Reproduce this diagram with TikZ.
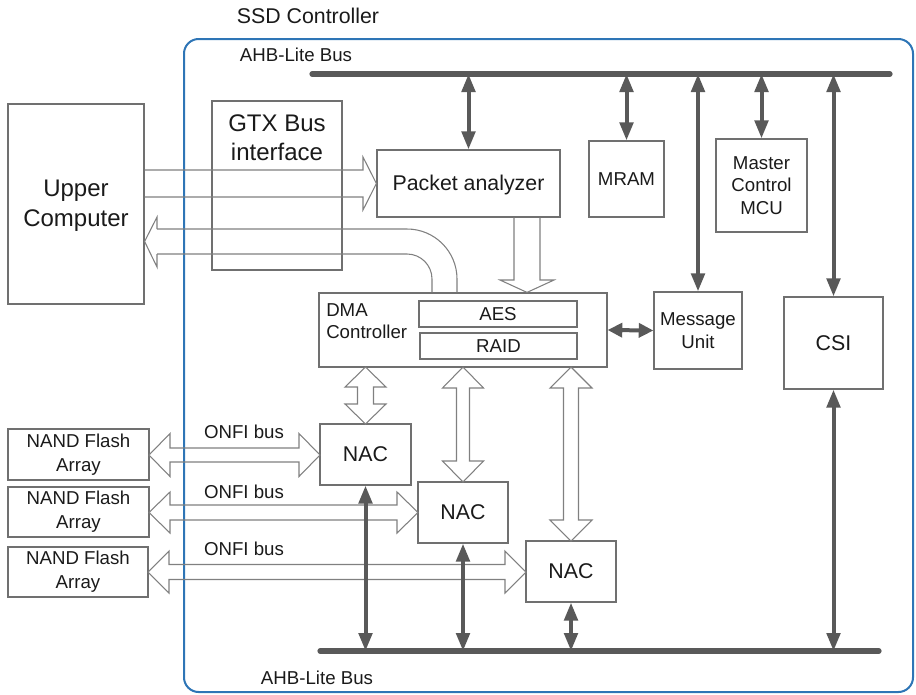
\documentclass[tikz,border=0pt]{standalone}
\usepackage{fontspec}
\setmainfont{Liberation Sans}
\usetikzlibrary{arrows.meta,fit,calc}
\definecolor{bluec}{HTML}{2E75B6}
\definecolor{dg}{HTML}{595959}
\definecolor{bx}{HTML}{707070}
\definecolor{hl}{HTML}{808080}
\definecolor{tx}{HTML}{1A1A1A}
% horizontal hollow double arrow: xl, xr, yc, shaft half, head half, head length
\newcommand{\hhollow}[6]{%
  \draw[hollow] (#1,#3) -- (#1+#6,#3-#5) -- (#1+#6,#3-#4) -- (#2-#6,#3-#4) -- (#2-#6,#3-#5) -- (#2,#3)
    -- (#2-#6,#3+#5) -- (#2-#6,#3+#4) -- (#1+#6,#3+#4) -- (#1+#6,#3+#5) -- cycle;}
% vertical hollow double arrow: x, ytop, ybot, shaft half, head half, head length
\newcommand{\vhollow}[6]{%
  \draw[hollow] (#1,#2) -- (#1+#5,#2+#6) -- (#1+#4,#2+#6) -- (#1+#4,#3-#6) -- (#1+#5,#3-#6) -- (#1,#3)
    -- (#1-#5,#3-#6) -- (#1-#4,#3-#6) -- (#1-#4,#2+#6) -- (#1-#5,#2+#6) -- cycle;}
\begin{document}
\begin{tikzpicture}[x=0.75pt,y=-0.75pt,
  box/.style={draw=bx, line width=0.9pt, inner sep=0pt},
  darr/.style={draw=dg, line width=3pt, {Triangle[length=13.5pt,width=10pt]}-{Triangle[length=13.5pt,width=10pt]}},
  sarr/.style={draw=dg, line width=3pt, {Triangle[length=11pt,width=10.5pt]}-{Triangle[length=11pt,width=10.5pt]}},
  hollow/.style={draw=hl, line width=0.8pt, line join=miter},
  bus/.style={draw=dg, line width=3.9pt, line cap=round},
  fa/.style={font=\fontsize{14}{17}\selectfont},
  fn/.style={font=\fontsize{14}{18}\selectfont},
  fb/.style={font=\fontsize{16}{19}\selectfont},
  fc/.style={font=\fontsize{18}{22.5}\selectfont},
  lbl/.style={text=tx, inner sep=0pt, align=center}]
\useasboundingbox (0,0) rectangle (916,694);

% SSD frame
\node[draw=bluec, line width=1.5pt, rounded corners=11pt, inner sep=0pt, fit={(184,39) (913,692)}] (ssd) {};
\node[lbl, fb] (ssdlbl) at (308,16) {SSD Controller};
\node[lbl, fa] (ahbT) at (296,55) {AHB-Lite Bus};
\node[lbl, fa] (ahbB) at (317,678) {AHB-Lite Bus};

% boxes
\node[box, fit={(8,104) (144,304)}] (uc) {};
\node[box, fit={(212,101) (342,270)}] (gtx) {};
\node[box, fit={(377,150) (560,217)}] (pa) {};
\node[box, fit={(589,141) (664,217)}] (mram) {};
\node[box, fit={(716,139) (807,232)}] (mcu) {};
\node[box, fit={(654,292) (742,369)}] (msg) {};
\node[box, fit={(784,297) (883,389)}] (csi) {};
\node[box, fit={(319,293) (607,367)}] (dma) {};
\node[box, fit={(419,301) (577,327)}] (aes) {};
\node[box, fit={(420,333) (577,359)}] (raid) {};
\node[box, fit={(320,424) (411,485)}] (nac1) {};
\node[box, fit={(418,482) (508,543)}] (nac2) {};
\node[box, fit={(526,541) (616,602)}] (nac3) {};
\node[box, fit={(8,429) (149,480)}] (nand1) {};
\node[box, fit={(8,487) (149,537)}] (nand2) {};
\node[box, fit={(8,547) (148,597)}] (nand3) {};

% texts
\node[lbl, fc] (uclbl) at ($(uc.center)+(0,2)$) {Upper\\Computer};
\node[lbl, font=\fontsize{18}{22}\selectfont] (gtxlbl) at (277,137.5) {GTX Bus\\interface};
\node[lbl, fb] (palbl) at ($(pa.center)+(0,1)$) {Packet analyzer};
\node[lbl, fa] (mramlbl) at (mram.center) {MRAM};
\node[lbl, fa] (mculbl) at (mcu.center) {Master\\Control\\MCU};
\node[lbl, fa] (msglbl) at (msg.center) {Message\\Unit};
\node[lbl, fb] (csilbl) at (csi.center) {CSI};
\node[lbl, fa, align=left, anchor=west] (dmalbl) at (326,321) {DMA\\Controller};
\node[lbl, fa] (aeslbl) at (aes.center) {AES};
\node[lbl, fa] (raidlbl) at (raid.center) {RAID};
\node[lbl, fb] (nac1lbl) at (nac1.center) {NAC};
\node[lbl, fb] (nac2lbl) at (nac2.center) {NAC};
\node[lbl, fb] (nac3lbl) at (nac3.center) {NAC};
\node[lbl, fn] (nand1lbl) at (nand1.center) {NAND Flash\\Array};
\node[lbl, fn] (nand2lbl) at (nand2.center) {NAND Flash\\Array};
\node[lbl, fn] (nand3lbl) at (nand3.center) {NAND Flash\\Array};
\node[lbl, fa] (onfi1) at (244,432) {ONFI bus};
\node[lbl, fa] (onfi2) at (244,492) {ONFI bus};
\node[lbl, fa] (onfi3) at (244,549) {ONFI bus};

% hollow arrows
\draw[hollow] (uc.east |- 0,170) -- (363,170) -- (363,157) -- (pa.west) -- (363,210) -- (363,197) -- (uc.east |- 0,197);
\draw[hollow, rounded corners=37.5pt] (dma.north -| 457,0) |- (157,229);
\draw[hollow, rounded corners=18.75pt] (dma.north -| 432,0) |- (157,254);
\draw[hollow] (157,229) -- (157,217) -- (uc.east |- 0,241.5) -- (157,267) -- (157,254);
\draw[hollow] (pa.south -| 514,0) -- (514,280) -- (500,280) -- (dma.north -| 527,0) -- (554,280) -- (540,280) -- (pa.south -| 540,0);
\vhollow{365.5}{367}{424}{8}{20.5}{20}
\vhollow{463}{367}{482}{6.5}{20.5}{21}
\vhollow{571}{367}{541}{7.5}{21}{21}
\hhollow{149}{320}{455}{7}{21.5}{21}
\hhollow{149}{418}{512.5}{7.5}{20.5}{21}
\hhollow{148}{526}{572}{7.5}{21}{21}

% bus coordinates
\coordinate (bt1) at (312,74);
\coordinate (bt2) at (890,74);
\coordinate (bb1) at (320,651);
\coordinate (bb2) at (879,651);

% dark arrows
\draw[darr] (pa.north) -- (pa.north |- bt1);
\draw[darr] (mram.north) -- (mram.north |- bt1);
\draw[darr] (msg.north) -- (msg.north |- bt1);
\draw[darr] (mcu.north) -- (mcu.north |- bt1);
\draw[darr] (csi.north) -- (csi.north |- bt1);
\draw[darr] (csi.south) -- (csi.south |- bb1);
\draw[darr] (nac1.south) -- (nac1.south |- bb1);
\draw[darr] (nac2.south) -- (nac2.south |- bb1);
\draw[darr] (nac3.south) -- (nac3.south |- bb1);
\draw[sarr] (dma.east) -- (msg.west);

% buses
\draw[bus] (bt1) -- (bt2);
\draw[bus] (bb1) -- (bb2);
\end{tikzpicture}
\end{document}
